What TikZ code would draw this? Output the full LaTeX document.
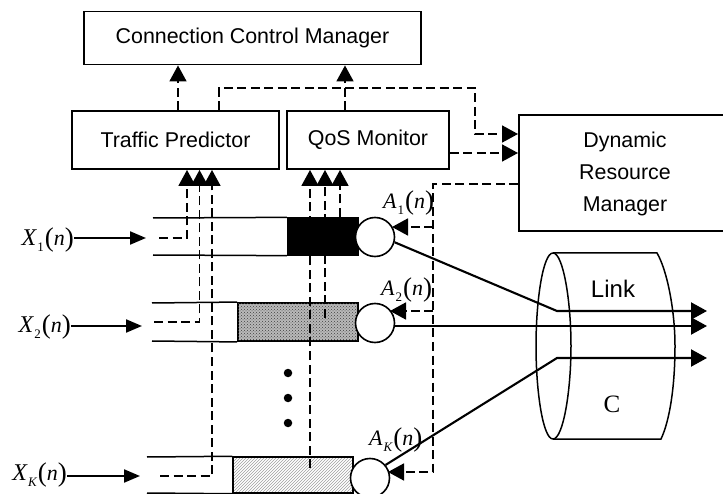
\documentclass[tikz,border=0pt]{standalone}
\usepackage{fontspec}
\setmainfont{Liberation Sans}
\newfontfamily\serifface{Liberation Serif}
\usetikzlibrary{arrows.meta,patterns,calc}
\newcommand{\vlab}[3][24]{\serifface{\fontsize{#1}{#1}\selectfont\itshape #2}\kern1pt\raisebox{-6pt}{\fontsize{13}{13}\selectfont #3}\kern1pt\raisebox{-1pt}{\fontsize{27}{27}\selectfont (}{\fontsize{22}{22}\selectfont\itshape n}\raisebox{-1pt}{\fontsize{27}{27}\selectfont )}}
\tikzset{
  boxn/.style={draw=black,line width=1.9pt,fill=white,inner sep=0pt,align=center,font=\fontsize{21.4}{32}\selectfont},
  ctl/.style={draw=black,line width=1.7pt,dash pattern=on 9pt off 4.5pt},
  hd/.style={-{Triangle[length=16pt,width=17pt]}},
  sol/.style={draw=black,line width=2.1pt},
  qline/.style={draw=black,line width=1.5pt},
  dot/.style={circle,fill=black,minimum size=8.5pt,inner sep=0pt},
  srv/.style={circle,draw=black,line width=1.6pt,fill=white,minimum size=39pt,inner sep=0pt},
  lab/.style={inner sep=0pt}
}
\begin{document}
\begin{tikzpicture}[x=1pt,y=-1pt]
\useasboundingbox (0,0) rectangle (723,494);
\clip (0,0) rectangle (723,494);
% boxes
\node[boxn,minimum width=337pt,minimum height=53pt] (ccm) at (252.5,38) {Connection Control Manager};
\node[boxn,minimum width=207pt,minimum height=58pt] (tp) at (175.5,140) {Traffic Predictor};
\node[boxn,minimum width=162pt,minimum height=58pt] (qos) at (368,140) {QoS Monitor};
\node[boxn,minimum width=230pt,minimum height=116pt,anchor=west] (drm) at (518,173) {};
\node[lab,align=center,font=\fontsize{21.4}{32}\selectfont] (drmt) at (625,174) {Dynamic\\Resource\\Manager};
% queues
\coordinate (q1a) at (153,218); \coordinate (q1b) at (153,255);
\coordinate (q2a) at (152,303); \coordinate (q2b) at (152,341);
\coordinate (qka) at (147,457); \coordinate (qkb) at (147,493);
\node[draw=black,fill=black,line width=1.3pt,minimum width=71pt,minimum height=37pt,inner sep=0pt] (b1) at (323,236.5) {};
\node[draw=black,line width=1.9pt,fill=gray!55,postaction={pattern=crosshatch dots,pattern color=black!75},minimum width=120pt,minimum height=38pt,inner sep=0pt] (b2) at (298,322) {};
\node[draw=black,line width=1.5pt,pattern=north east lines,pattern color=gray!75,minimum width=120pt,minimum height=36pt,inner sep=0pt] (bk) at (293,475) {};
\draw[qline] (q1a) -- (b1.north west);
\draw[qline] (q1b) -- (b1.south west);
\draw[qline] (q2a) -- (b2.north west);
\draw[qline] (q2b) -- (b2.south west);
\draw[qline] (qka) -- (bk.north west);
\draw[qline] (qkb) -- (bk.south west);
% servers
\node[srv] (s1) at (375,237) {};
\node[srv] (s2) at (375,323) {};
\node[srv] (sk) at (370,478) {};
% inputs
\node[lab,anchor=east] (x1) at (74,240) {\vlab{X}{1}};
\node[lab,anchor=east] (x2) at (71,327) {\vlab{X}{2}};
\node[lab,anchor=east] (xk) at (67,475) {\vlab{X}{\itshape K}};
\coordinate (i1) at (146,238); \coordinate (i2) at (142,326); \coordinate (ik) at (140,476);
\draw[sol,-{Triangle[length=16pt,width=13pt]}] (x1.east |- i1) -- (i1);
\draw[sol,-{Triangle[length=16pt,width=13pt]}] (x2.east |- i2) -- (i2);
\draw[sol,-{Triangle[length=16pt,width=13pt]}] (xk.east |- ik) -- (ik);
% predictor tap lines
\coordinate (d1) at (159,238); \coordinate (d2) at (154,322); \coordinate (dk) at (160,476);
\draw[ctl,hd] (d1) -- (187,238) -- (187,0 |- tp.south);
\draw[ctl,hd] (d2) -- (199.5,322) -- (199.5,0 |- tp.south);
\draw[ctl,hd] (dk) -- (212,476) -- (212,0 |- tp.south);
% monitor tap lines
\coordinate (m1) at (340,217); \coordinate (m2) at (325,318); \coordinate (mk) at (310,468);
\draw[ctl,hd] (m1) -- (340,0 |- qos.south);
\draw[ctl,hd] (m2) -- (325,0 |- qos.south);
\draw[ctl,hd] (mk) -- (310,0 |- qos.south);
% up to connection manager
\draw[ctl,hd] (178,0 |- tp.north) -- (178,0 |- ccm.south);
\draw[ctl,hd] (345,0 |- qos.north) -- (345,0 |- ccm.south);
% to resource manager
\draw[ctl,hd] (219,0 |- tp.north) -- (219,88) -- (475,88) -- (475,134) -- (drm.west |- 0,134);
\draw[ctl,hd] (qos.east |- 0,153) -- (drm.west |- 0,153);
% resource manager to servers
\coordinate (j1) at (433,227); \coordinate (j2) at (433,311);
\draw[ctl,hd] (drm.west |- 0,184) -- (433,184) -- (433,472) -- (388,472);
\draw[ctl,hd] (j1) -- (392,227);
\draw[ctl,hd] (j2) -- (390,311);
% link cylinder
\draw[line width=1.5pt] (553,253) .. controls (543,253) and (536,300) .. (536,346) .. controls (536,392) and (543,439) .. (553,439);
\draw[line width=1.5pt] (553,253) .. controls (563,253) and (571,300) .. (571,346) .. controls (571,392) and (563,439) .. (553,439);
\draw[line width=1.5pt] (553,253) -- (657,253) .. controls (667,270) and (675,310) .. (675,346) .. controls (675,385) and (670,420) .. (661,439) -- (553,439);
\node[lab,font=\fontsize{24}{24}\selectfont] (lnk) at (613,289) {Link};
\node[lab,font=\serifface\fontsize{25}{25}\selectfont] (cc) at (612,404) {C};
% outputs
\coordinate (o1) at (707,311); \coordinate (o2) at (707,326); \coordinate (ok) at (707,358);
\draw[sol,hd] (s1.-15) -- (557,311) -- (o1);
\draw[sol,hd] (s2.east |- o2) -- (o2);
\draw[sol,hd] (sk.40) -- (557,358) -- (ok);
% labels
\node[lab,anchor=west] (a1) at (383,203) {\vlab[22]{A}{1}};
\node[lab,anchor=west] (a2) at (381,290) {\vlab[22]{A}{2}};
\node[lab,anchor=west] (ak) at (369,440) {\vlab[22]{A}{\itshape K}};
% dots
\node[dot] (p1) at (288,373) {};
\node[dot] (p2) at (288,398) {};
\node[dot] (p3) at (288,423) {};
\end{tikzpicture}
\end{document}
